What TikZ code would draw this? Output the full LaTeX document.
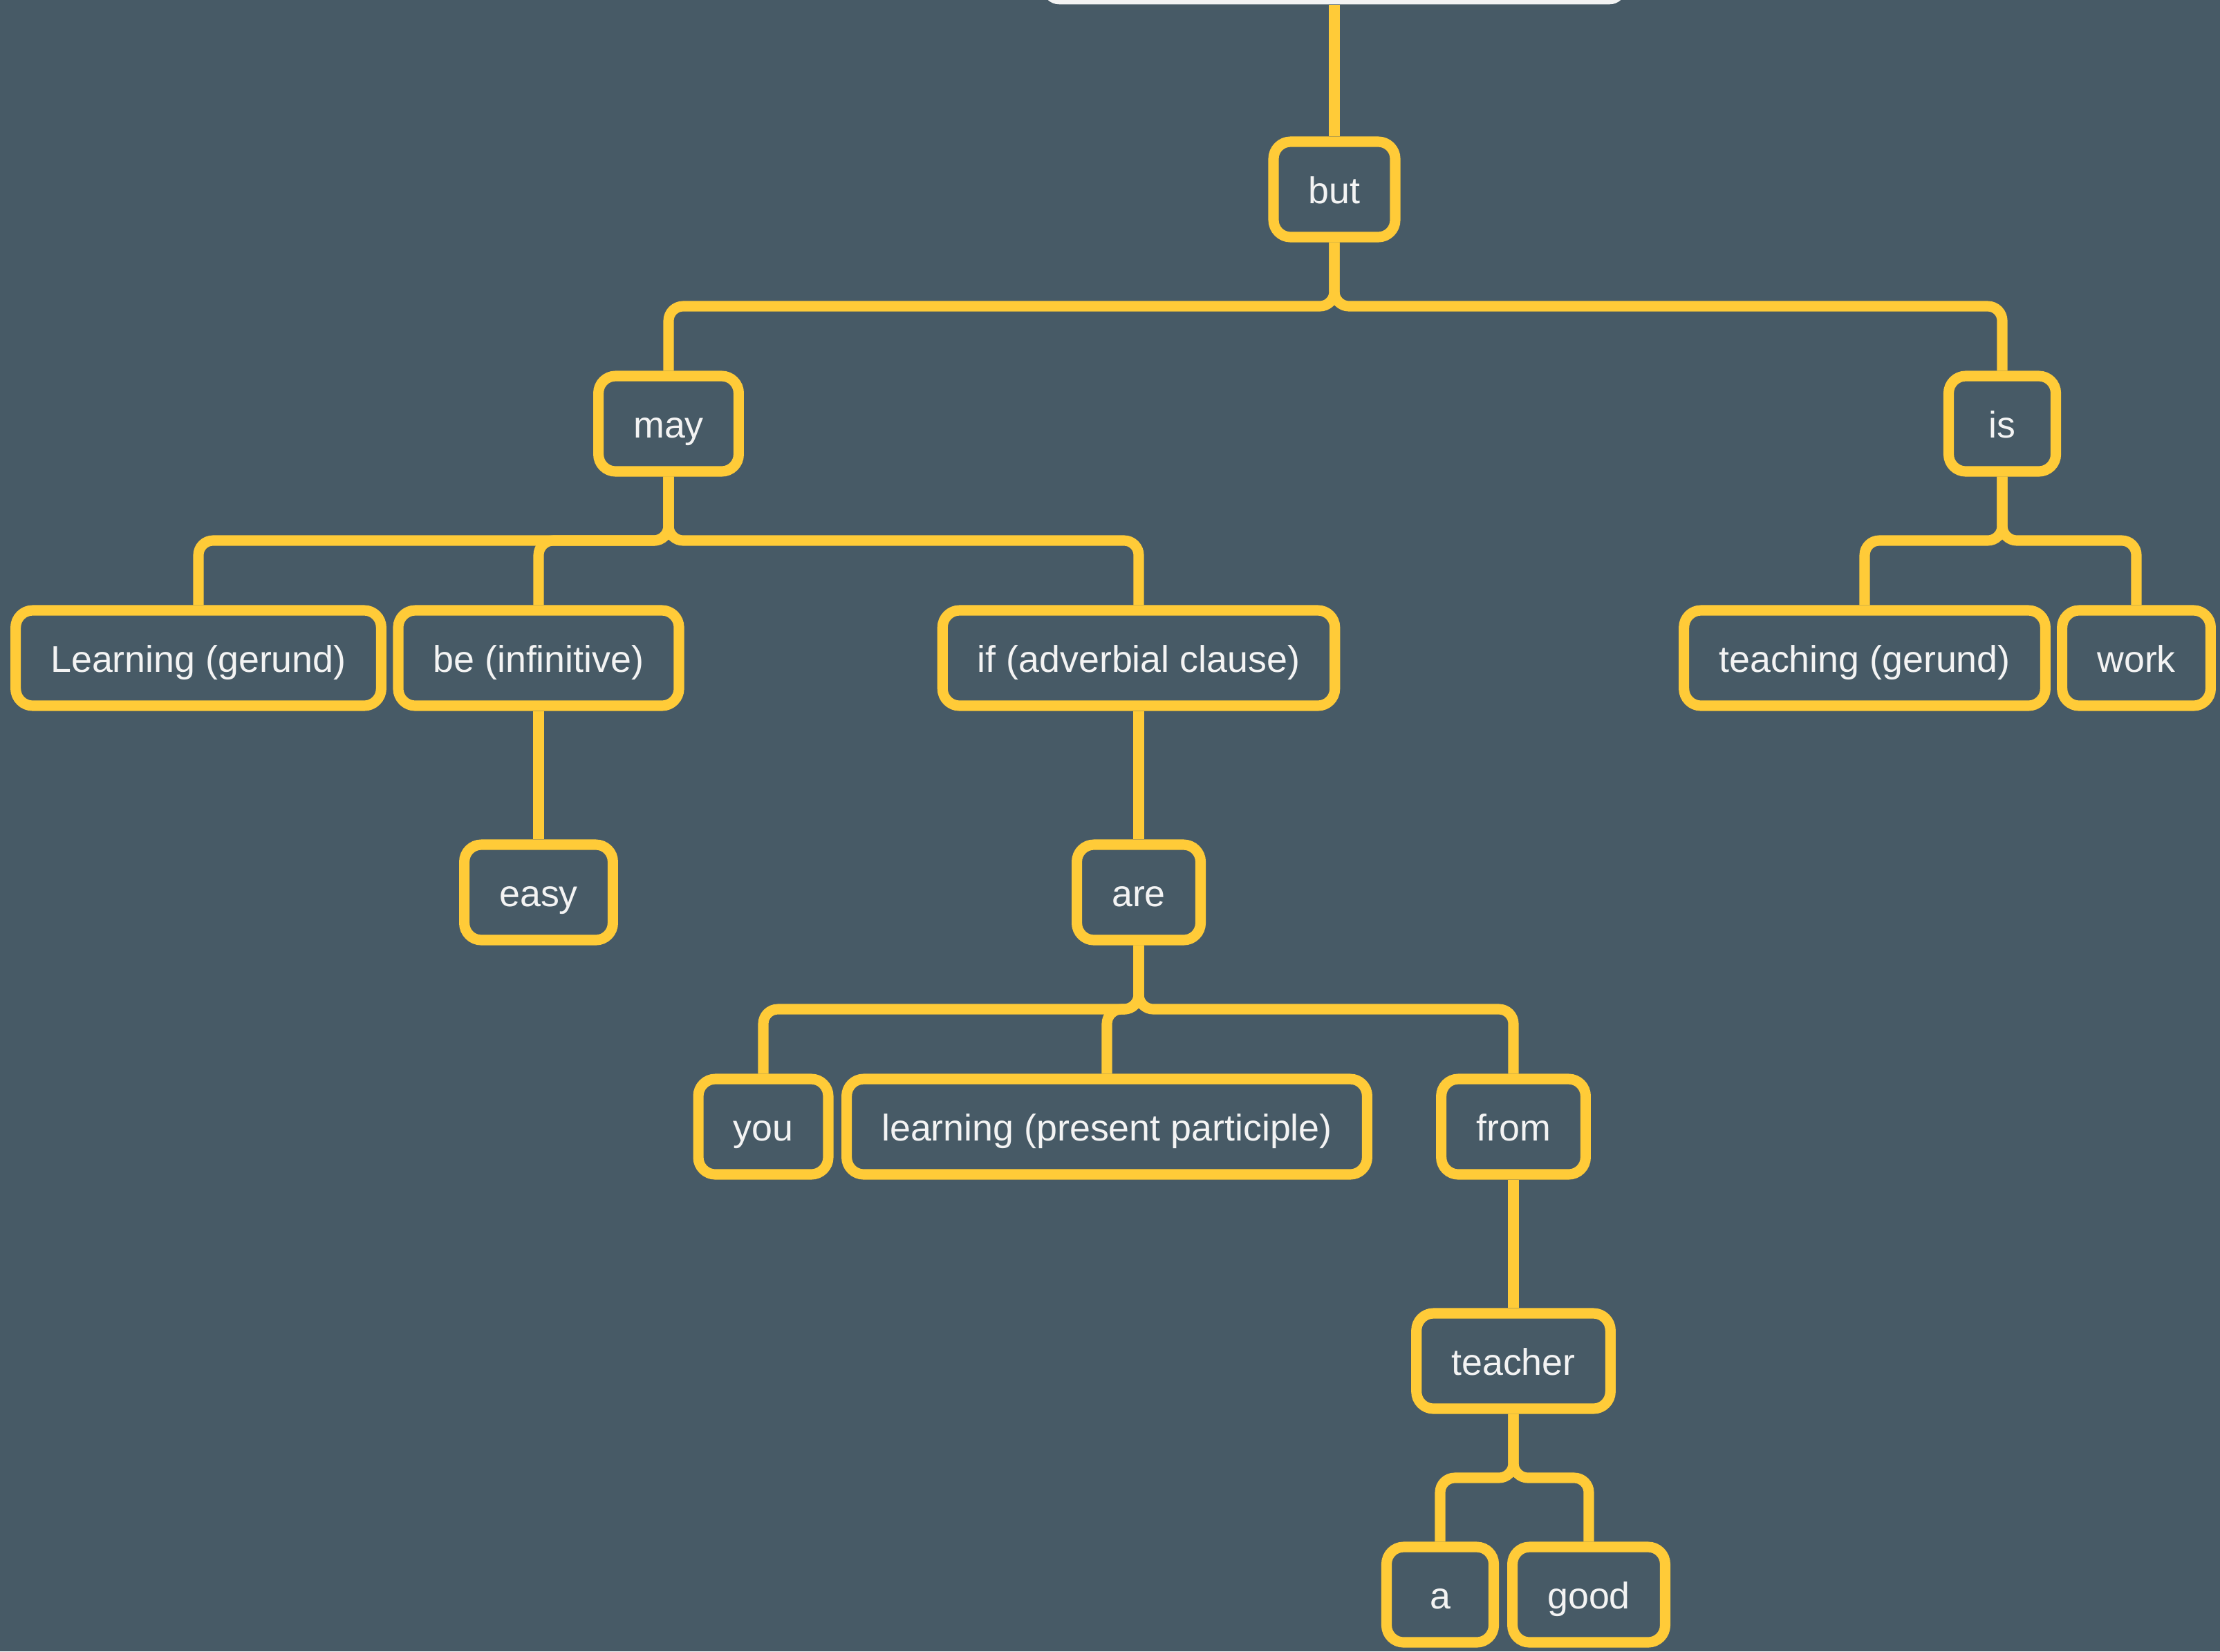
\documentclass[tikz,border=0pt]{standalone}
\usepackage{fontspec}
\setmainfont{Liberation Sans}
\usepackage{xcolor}
\usetikzlibrary{positioning,calc}

\definecolor{slate}{HTML}{475A66}
\definecolor{sun}{HTML}{FFCB38}
\definecolor{chalk}{HTML}{F3F3F3}

\tikzset{
    word/.style={draw=sun, fill=slate, line width=4.3pt, rounded corners=7pt,
        text=chalk, font=\fontsize{15.3}{18}\selectfont,
        text height=13.9pt, text depth=2.5pt,
        inner xsep=14.4pt, minimum width=1.55cm, minimum height=1.38cm},
    link/.style={draw=sun, line width=4.3pt, rounded corners=6pt}
}

\begin{document}
\begin{tikzpicture}
    % Canvas
    \fill[slate] (0,0) rectangle (32.11,-23.89);
    \useasboundingbox (0,0) rectangle (32.11,-23.89);
    \clip (0,0) rectangle (32.11,-23.89);

    % Root box (cut off at the top)
    \node[fill=chalk, rounded corners=7pt, minimum width=8.45cm, minimum height=1.6cm,
        anchor=south] (root) at (19.30,-0.07) {};

    % Words
    \node[word] (but) at (19.30,-2.74) {but};

    \node[word] (may) at (9.67,-6.13) {may};
    \node[word] (is) at (28.96,-6.13) {is};

    \node[word] (learn) at (2.87,-9.52) {Learning (gerund)};
    \node[word] (be) at (7.79,-9.52) {be (infinitive)};
    \node[word] (if) at (16.47,-9.52) {if (adverbial clause)};
    \node[word] (teach) at (26.97,-9.52) {teaching (gerund)};
    \node[word] (work) at (30.90,-9.52) {work};

    \node[word] (easy) at (7.79,-12.91) {easy};
    \node[word] (are) at (16.47,-12.91) {are};

    \node[word] (you) at (11.04,-16.30) {you};
    \node[word] (learnpp) at (16.01,-16.30) {learning (present participle)};
    \node[word] (from) at (21.89,-16.30) {from};

    \node[word] (teacher) at (21.89,-19.69) {teacher};

    \node[word] (a) at (20.83,-23.07) {a};
    \node[word] (good) at (22.98,-23.07) {good};

    % Bars
    \coordinate (but-bar) at (19.30,-4.43);
    \coordinate (may-bar) at (9.67,-7.82);
    \coordinate (is-bar) at (28.96,-7.82);
    \coordinate (are-bar) at (16.47,-14.60);
    \coordinate (teacher-bar) at (21.89,-21.38);

    % Straight links
    \foreach \p/\c in {root/but, be/easy, if/are, from/teacher} {
        \draw[link] (\p.south) -- (\c.north);
    }

    % Elbow links
    \foreach \p/\c in {but/may, but/is, may/learn, may/be, may/if, is/teach, is/work,
        are/you, are/learnpp, are/from, teacher/a, teacher/good} {
        \draw[link] (\p.south) -- (\p-bar) -| (\c.north);
    }
\end{tikzpicture}
\end{document}
